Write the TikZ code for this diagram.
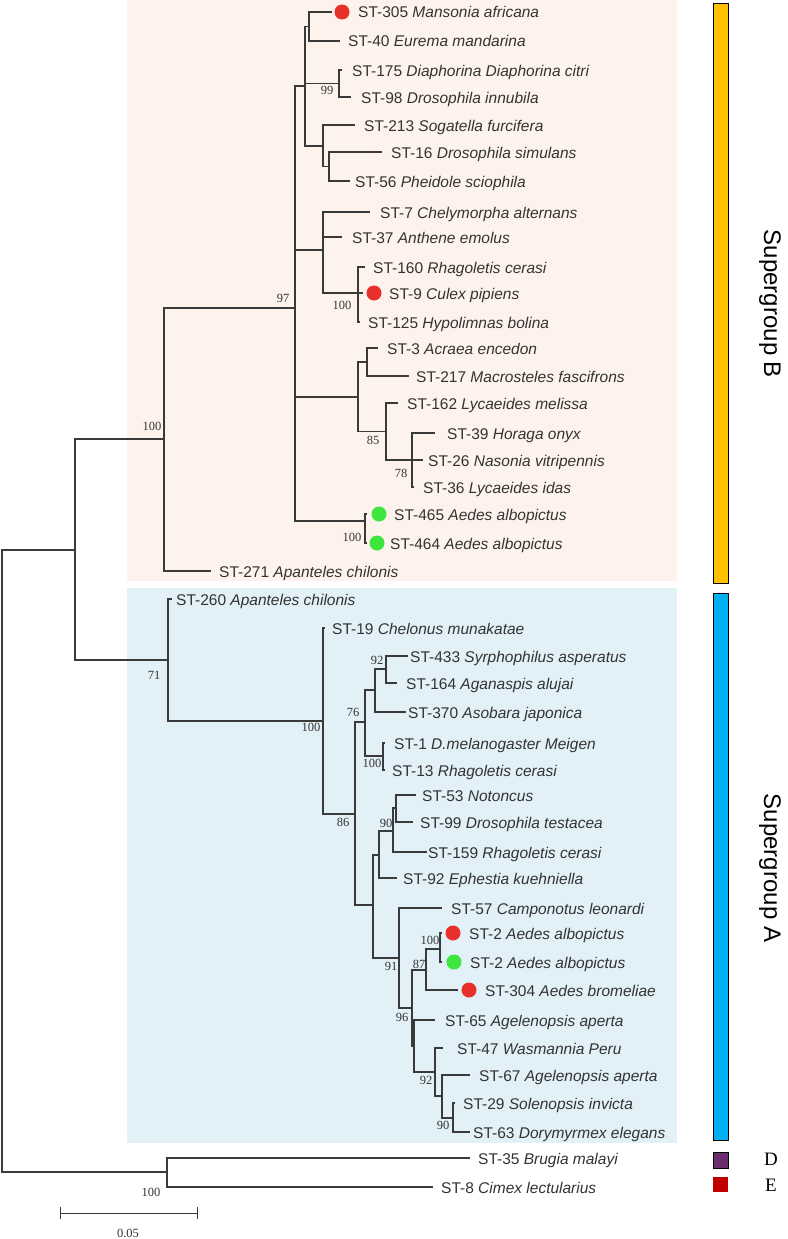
\documentclass[tikz,border=0pt]{standalone}
\usepackage{fontspec}
\setmainfont{Liberation Serif}
\newfontfamily\arialf{Liberation Sans}
\definecolor{peach}{HTML}{FDF3EC}
\definecolor{lblue}{HTML}{E2F1F7}
\definecolor{treec}{HTML}{3A3A3A}
\definecolor{txtc}{HTML}{333333}
\definecolor{dotred}{HTML}{E8302A}
\definecolor{dotgreen}{HTML}{3CE63C}
\definecolor{barY}{HTML}{FFC000}
\definecolor{barB}{HTML}{00B0F0}
\definecolor{sqD}{HTML}{6B2D6E}
\definecolor{sqE}{HTML}{C00000}
\tikzset{
  br/.style={draw=treec, line width=1.3pt},
  lab/.style={anchor=base west, inner sep=0pt, text=txtc, font=\arialf\fontsize{15.5}{18}\selectfont},
  bs/.style={anchor=center, inner sep=0pt, text=txtc, font=\fontsize{12.5}{14}\selectfont},
  rdot/.style={circle, fill=dotred, minimum size=15pt, inner sep=0pt},
  gdot/.style={circle, fill=dotgreen, minimum size=15pt, inner sep=0pt},
  grp/.style={rotate=-90, anchor=center, inner sep=0pt, text=black, font=\arialf\fontsize{24}{28}\selectfont},
  barbox/.style={draw=black, line width=1pt},
}
\newcommand\leafT[5]{%
  \coordinate (#1) at (#2,#3);
  \node[lab] (#1t) at (#4,#3+6) {#5};}
\begin{document}
\begin{tikzpicture}[x=1pt,y=-1pt]
\useasboundingbox (0,0) rectangle (787,1239);
\fill[white] (0,0) rectangle (787,1239);
% backgrounds
\fill[peach] (127,0) rectangle (677,581);
\fill[lblue] (127,588) rectangle (677,1143);
% bars
\node[barbox, fill=barY, minimum width=15pt, minimum height=579pt, inner sep=0pt] (barB) at (720.5,293.5) {};
\node[barbox, fill=barB, minimum width=15pt, minimum height=547pt, inner sep=0pt] (barA) at (720.5,866.5) {};
\node[barbox, fill=sqD, minimum width=15pt, minimum height=16pt, inner sep=0pt] (sqd) at (720.5,1160) {};
\node[fill=sqE, minimum width=15pt, minimum height=15pt, inner sep=0pt] (sqe) at (720.5,1184.5) {};
\node[grp] (gB) at (770,304) {Supergroup B};
\node[grp] (gA) at (770,868) {Supergroup A};
\node[inner sep=0pt, font=\fontsize{19}{22}\selectfont] (lD) at (771,1159) {D};
\node[inner sep=0pt, font=\fontsize{19}{22}\selectfont] (lE) at (771,1185) {E};

% internal nodes
\coordinate (root) at (2,861);
\coordinate (nAB) at (75,550);
\coordinate (n100B) at (164,439);
\coordinate (n97) at (295,308);
\coordinate (nD) at (305,86);
\coordinate (nA) at (309,26.5);
\coordinate (n99) at (339,83.5);
\coordinate (nC) at (323,146);
\coordinate (nC2) at (329,166.5);
\coordinate (nE) at (323,250);
\coordinate (nE2) at (358,293);
\coordinate (nF) at (358,397);
\coordinate (nF1) at (367,362);
\coordinate (n85) at (386,431.5);
\coordinate (n78) at (412,460);
\coordinate (n6) at (365,521);
\coordinate (n71) at (168,660);
\coordinate (n100A) at (323,721);
\coordinate (n86) at (355,814);
\coordinate (n76) at (365,722);
\coordinate (nP) at (375,690);
\coordinate (n92a) at (386,669);
\coordinate (n100c) at (383,756);
\coordinate (nX) at (373,905);
\coordinate (nY) at (379,855);
\coordinate (n90) at (393,831);
\coordinate (n90p) at (396,808);
\coordinate (n91) at (399,958);
\coordinate (n96) at (412,1008);
\coordinate (n87) at (426,970);
\coordinate (n100d) at (440,949);
\coordinate (n65) at (414,1046);
\coordinate (n92b) at (435,1072);
\coordinate (n67) at (442,1096);
\coordinate (n90b) at (453,1118);
\coordinate (nDE) at (167,1172);

% leaves
\leafT{L1}{332}{12}{358}{ST-305 \textit{Mansonia africana}}
\leafT{L2}{340}{41}{348}{ST-40 \textit{Eurema mandarina}}
\leafT{L3}{342}{70}{352}{ST-175 \textit{Diaphorina Diaphorina citri}}
\leafT{L4}{351}{97}{361}{ST-98 \textit{Drosophila innubila}}
\leafT{L5}{355}{125}{364}{ST-213 \textit{Sogatella furcifera}}
\leafT{L6}{382}{152}{391}{ST-16 \textit{Drosophila simulans}}
\leafT{L7}{350}{181}{355}{ST-56 \textit{Pheidole sciophila}}
\leafT{L8}{370}{212}{380}{ST-7 \textit{Chelymorpha alternans}}
\leafT{L9}{342}{237}{352}{ST-37 \textit{Anthene emolus}}
\leafT{L10}{365}{267}{373}{ST-160 \textit{Rhagoletis cerasi}}
\leafT{L11}{363}{293}{389}{ST-9 \textit{Culex pipiens}}
\leafT{L12}{360}{322}{368}{ST-125 \textit{Hypolimnas bolina}}
\leafT{L13}{378}{348}{387}{ST-3 \textit{Acraea encedon}}
\leafT{L14}{409}{376}{416}{ST-217 \textit{Macrosteles fascifrons}}
\leafT{L15}{398}{403}{407}{ST-162 \textit{Lycaeides melissa}}
\leafT{L16}{435}{433}{447}{ST-39 \textit{Horaga onyx}}
\leafT{L17}{423}{460}{428}{ST-26 \textit{Nasonia vitripennis}}
\leafT{L18}{414}{487}{423}{ST-36 \textit{Lycaeides idas}}
\leafT{L19}{367}{514}{394}{ST-465 \textit{Aedes albopictus}}
\leafT{L20}{367}{543}{390}{ST-464 \textit{Aedes albopictus}}
\leafT{L21}{211}{571}{219}{ST-271 \textit{Apanteles chilonis}}
\leafT{L22}{172}{599}{176}{ST-260 \textit{Apanteles chilonis}}
\leafT{L23}{325}{628}{332}{ST-19 \textit{Chelonus munakatae}}
\leafT{L24}{408}{656}{410}{ST-433 \textit{Syrphophilus asperatus}}
\leafT{L25}{397}{683}{406}{ST-164 \textit{Aganaspis alujai}}
\leafT{L26}{406}{712}{408}{ST-370 \textit{Asobara japonica}}
\leafT{L27}{385}{743}{394}{ST-1 \textit{D.melanogaster Meigen}}
\leafT{L28}{385}{770}{392}{ST-13 \textit{Rhagoletis cerasi}}
\leafT{L29}{416}{795}{422}{ST-53 \textit{Notoncus}}
\leafT{L30}{413}{822}{420}{ST-99 \textit{Drosophila testacea}}
\leafT{L31}{427}{852}{428}{ST-159 \textit{Rhagoletis cerasi}}
\leafT{L32}{397}{878}{403}{ST-92 \textit{Ephestia kuehniella}}
\leafT{L33}{442}{908}{451}{ST-57 \textit{Camponotus leonardi}}
\leafT{L34}{442}{933}{469}{ST-2 \textit{Aedes albopictus}}
\leafT{L35}{442}{962}{470}{ST-2 \textit{Aedes albopictus}}
\leafT{L36}{458}{990}{485}{ST-304 \textit{Aedes bromeliae}}
\leafT{L37}{435}{1020}{445}{ST-65 \textit{Agelenopsis aperta}}
\leafT{L38}{443}{1048}{457}{ST-47 \textit{Wasmannia Peru}}
\leafT{L39}{470}{1075}{479}{ST-67 \textit{Agelenopsis aperta}}
\leafT{L40}{455}{1103}{463}{ST-29 \textit{Solenopsis invicta}}
\leafT{L41}{470}{1132}{473}{ST-63 \textit{Dorymyrmex elegans}}
\leafT{L42}{470}{1158}{478}{ST-35 \textit{Brugia malayi}}
\leafT{L43}{433}{1187}{441}{ST-8 \textit{Cimex lectularius}}

% dots
\node[rdot] (d1) at (342,12) {};
\node[rdot] (d11) at (374,293) {};
\node[gdot] (d19) at (379,514) {};
\node[gdot] (d20) at (377,543) {};
\node[rdot] (d34) at (453,933) {};
\node[gdot] (d35) at (454,962) {};
\node[rdot] (d36) at (469,990) {};

% branches
\draw[br] (root) |- (nAB);
\draw[br] (root) |- (nDE);
\draw[br] (nAB) |- (n100B);
\draw[br] (nAB) |- (n71);
\draw[br] (n100B) |- (n97);
\draw[br] (n100B) |- (L21);
\draw[br] (n97) |- (nD);
\draw[br] (n97) |- (nE);
\draw[br] (n97) |- (nF);
\draw[br] (n97) |- (n6);
\draw[br] (nD) |- (nA);
\draw[br] (nD) |- (n99);
\draw[br] (nD) |- (nC);
\draw[br] (nA) |- (L1);
\draw[br] (nA) |- (L2);
\draw[br] (n99) |- (L3);
\draw[br] (n99) |- (L4);
\draw[br] (nC) |- (L5);
\draw[br] (nC) |- (nC2);
\draw[br] (nC2) |- (L6);
\draw[br] (nC2) |- (L7);
\draw[br] (nE) |- (L8);
\draw[br] (nE) |- (L9);
\draw[br] (nE) |- (nE2);
\draw[br] (nE2) |- (L10);
\draw[br] (nE2) |- (L11);
\draw[br] (nE2) |- (L12);
\draw[br] (nF) |- (nF1);
\draw[br] (nF) |- (n85);
\draw[br] (nF1) |- (L13);
\draw[br] (nF1) |- (L14);
\draw[br] (n85) |- (L15);
\draw[br] (n85) |- (n78);
\draw[br] (n78) |- (L16);
\draw[br] (n78) |- (L17);
\draw[br] (n78) |- (L18);
\draw[br] (n6) |- (L19);
\draw[br] (n6) |- (L20);
\draw[br] (n71) |- (L22);
\draw[br] (n71) |- (n100A);
\draw[br] (n100A) |- (L23);
\draw[br] (n100A) |- (n86);
\draw[br] (n86) |- (n76);
\draw[br] (n86) |- (nX);
\draw[br] (n76) |- (nP);
\draw[br] (n76) |- (n100c);
\draw[br] (nP) |- (n92a);
\draw[br] (nP) |- (L26);
\draw[br] (n92a) |- (L24);
\draw[br] (n92a) |- (L25);
\draw[br] (n100c) |- (L27);
\draw[br] (n100c) |- (L28);
\draw[br] (nX) |- (nY);
\draw[br] (nX) |- (n91);
\draw[br] (nY) |- (n90);
\draw[br] (nY) |- (L32);
\draw[br] (n90) |- (n90p);
\draw[br] (n90) |- (L31);
\draw[br] (n90p) |- (L29);
\draw[br] (n90p) |- (L30);
\draw[br] (n91) |- (L33);
\draw[br] (n91) |- (n96);
\draw[br] (n96) |- (n87);
\draw[br] (n96) |- (n65);
\draw[br] (n87) |- (n100d);
\draw[br] (n87) |- (L36);
\draw[br] (n100d) |- (L34);
\draw[br] (n100d) |- (L35);
\draw[br] (n65) |- (L37);
\draw[br] (n65) |- (n92b);
\draw[br] (n92b) |- (L38);
\draw[br] (n92b) |- (n67);
\draw[br] (n67) |- (L39);
\draw[br] (n67) |- (n90b);
\draw[br] (n90b) |- (L40);
\draw[br] (n90b) |- (L41);
\draw[br] (nDE) |- (L42);
\draw[br] (nDE) |- (L43);

% bootstrap labels
\node[bs] (b99) at (327,90) {99};
\node[bs] (b97) at (283,298) {97};
\node[bs] (b100e) at (342,305) {100};
\node[bs] (b85) at (373,440) {85};
\node[bs] (b78) at (401,473) {78};
\node[bs] (b100f) at (352,537) {100};
\node[bs] (b100B) at (152,426) {100};
\node[bs] (b71) at (154,675) {71};
\node[bs] (b100A) at (311,727) {100};
\node[bs] (b86) at (343,822) {86};
\node[bs] (b76) at (353,712) {76};
\node[bs] (b92a) at (377,660) {92};
\node[bs] (b100c) at (372,763) {100};
\node[bs] (b90) at (386,823) {90};
\node[bs] (b91) at (391,966) {91};
\node[bs] (b96) at (402,1017) {96};
\node[bs] (b87) at (419,964) {87};
\node[bs] (b100d) at (430,940) {100};
\node[bs] (b92b) at (426,1080) {92};
\node[bs] (b90b) at (443,1125) {90};
\node[bs] (b100DE) at (151,1192) {100};

% scale bar
\coordinate (sb1) at (60,1213);
\coordinate (sb2) at (197,1213);
\draw[br, line width=1pt] (sb1) -- (sb2);
\draw[br, line width=1pt] ([yshift=6pt]sb1) -- ([yshift=-6pt]sb1);
\draw[br, line width=1pt] ([yshift=6pt]sb2) -- ([yshift=-6pt]sb2);
\node[bs] (sbl) at (128,1233) {0.05};
\end{tikzpicture}
\end{document}
